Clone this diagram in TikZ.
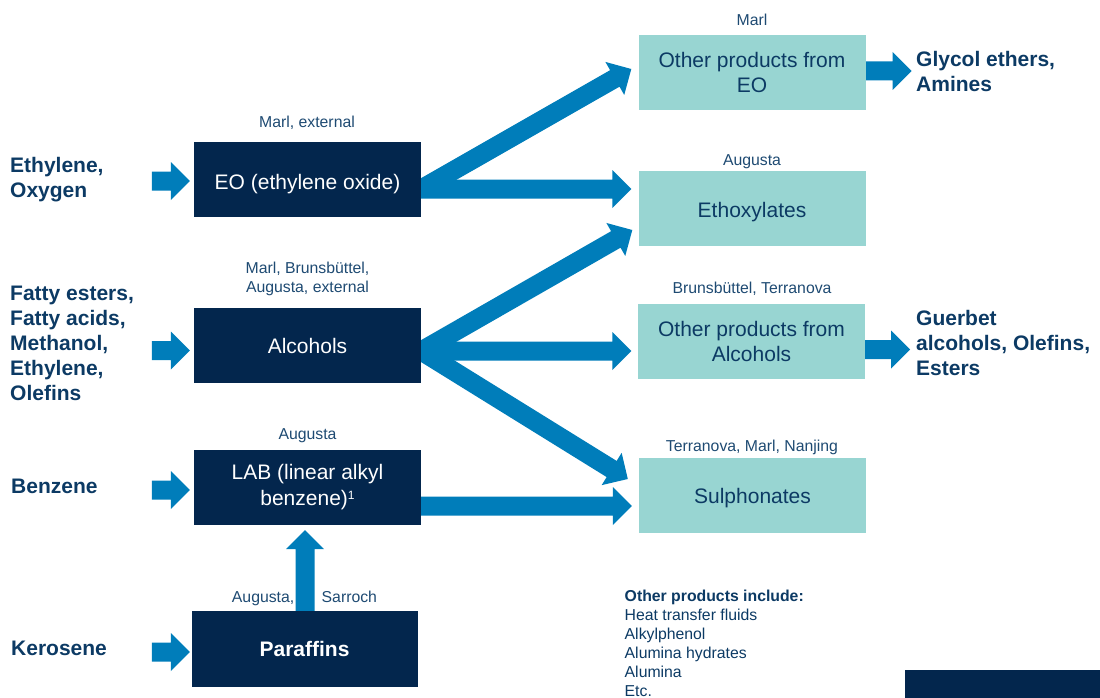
\documentclass[tikz,border=0pt]{standalone}
\usepackage{fontspec}
\setmainfont{Liberation Sans}
\usetikzlibrary{calc,backgrounds}

\definecolor{navybox}{HTML}{03264D}
\definecolor{tealbox}{HTML}{98D5D2}
\definecolor{flowblue}{HTML}{007DBA}
\definecolor{inkblue}{HTML}{0C3A64}
\definecolor{sitecol}{HTML}{1E4A72}

% broad block arrow from #1 to #2: shaft 19pt, head 38pt wide and 19pt long
\newcommand{\fatarrow}[2]{%
  \coordinate (fa-base) at ($(#2)!19pt!(#1)$);
  \fill[flow] ($(#1)!9.5pt!90:(#2)$) -- ($(fa-base)!9.5pt!90:(#2)$)
    -- ($(fa-base)!19pt!90:(#2)$) -- (#2) -- ($(fa-base)!19pt!-90:(#2)$)
    -- ($(fa-base)!9.5pt!-90:(#2)$) -- ($(#1)!9.5pt!-90:(#2)$) -- cycle;}

% small footnote mark
\newcommand{\fnmark}[1]{\raisebox{6pt}{\fontsize{12}{12}\selectfont #1}}

\tikzset{
  flow/.style={fill=flowblue},
  darkbox/.style={fill=navybox, text=white, minimum width=227pt, minimum height=75pt,
    inner sep=0pt, align=center, font=\fontsize{21}{26}\selectfont},
  lightbox/.style={fill=tealbox, text=inkblue, minimum width=227pt, minimum height=75pt,
    inner sep=0pt, align=center, font=\fontsize{21}{25}\selectfont},
  oneline/.style={text height=15.3pt, text depth=0pt},
  site/.style={text=sitecol, inner sep=0pt, align=center, font=\fontsize{15.8}{19.5}\selectfont},
  feed/.style={text=inkblue, inner sep=0pt, align=left, font=\fontsize{21}{25}\selectfont\bfseries},
  notes/.style={text=inkblue, inner sep=0pt, align=left, font=\fontsize{15.8}{19}\selectfont},
}

\begin{document}
\begin{tikzpicture}[x=1pt, y=-1pt]
\useasboundingbox (0,0) rectangle (1100,698);
\clip (0,0) rectangle (1100,698);

% intermediate products
\node[darkbox, text height=20pt, text depth=0pt] (eo)  at (307.5,179.5) {EO (ethylene oxide)};
\node[darkbox, oneline] (alc) at (307.5,345.8) {Alcohols};
\node[darkbox] (lab) at (307.5,487.5) {LAB (linear alkyl\\benzene)\fnmark{1}};
\node[darkbox, oneline, minimum width=226pt, minimum height=76pt,
  font=\fontsize{21}{25}\selectfont\bfseries] (par) at (304.5,649) {Paraffins};

% end products
\node[lightbox] (oeo) at (752,72.5) {Other products from\\EO};
\node[lightbox, text height=17pt, text depth=0pt] (eth) at (752,208.5) {Ethoxylates};
\node[lightbox, oneline] (sul) at (752.5,495.5) {Sulphonates};
\node[lightbox] (oal) at (751.5,341.5) {Other products from\\Alcohols};

% sites
\node[site, anchor=base] (s-oeo) at (752,26) {Marl};
\node[site, anchor=base] (s-eth) at (752,165) {Augusta};
\node[site, anchor=base] (s-oal) at (752,293) {Brunsbüttel, Terranova};
\node[site, anchor=base] (s-sul) at (752,451) {Terranova, Marl, Nanjing};
\node[site, anchor=base] (s-eo)  at (307,128) {Marl, external};
\node[site, anchor=north] (s-alc) at (307.5,261.6) {Marl, Brunsbüttel,\\Augusta, external};
\node[site, anchor=base] (s-lab) at (307.5,439) {Augusta};
\node[site, anchor=base east] (s-par1) at (294.5,602) {Augusta,};
\node[site, anchor=base west] (s-par2) at (321.5,602) {Sarroch};

% feedstocks
\node[feed, anchor=north west] (f-eo)  at (10,157.3) {Ethylene,\\Oxygen};
\node[feed, anchor=north west] (f-alc) at (10,286.2) {Fatty esters,\\Fatty acids,\\Methanol,\\Ethylene,\\Olefins};
\node[feed, anchor=base west]  (f-lab) at (11,493.5) {Benzene};
\node[feed, anchor=base west]  (f-par) at (11,655.5) {Kerosene};

% downstream products
\node[feed, anchor=north west] (d-oeo) at (916,51.2) {Glycol ethers,\\Amines};
\node[feed, anchor=north west] (d-oal) at (916,310.2) {Guerbet\\alcohols, Olefins,\\Esters};

% further products
\node[notes, anchor=north west] (other) at (624.5,589.5)
  {\textbf{Other products include:}\\Heat transfer fluids\\Alkylphenol\\Alumina hydrates\\Alumina\\Etc.};

% box at the lower right edge
\node[fill=navybox, minimum width=200pt, minimum height=40pt, inner sep=0pt, anchor=north west]
  (corner) at (905,670) {};

% arrow end points
\coordinate (eoIn1)  at ($(eo.west)+(-42,1.5)$);
\coordinate (eoIn2)  at ($(eo.west)+(-4,1.5)$);
\coordinate (alcIn1) at ($(alc.west)+(-42,4.7)$);
\coordinate (alcIn2) at ($(alc.west)+(-4,4.7)$);
\coordinate (labIn1) at ($(lab.west)+(-42,2.5)$);
\coordinate (labIn2) at ($(lab.west)+(-4,2.5)$);
\coordinate (parIn1) at ($(par.west)+(-39.5,3)$);
\coordinate (parIn2) at ($(par.west)+(-1.5,3)$);

\coordinate (eoOut)  at ($(eo.east)+(0,9.5)$);
\coordinate (oeoIn)  at ($(oeo.west)+(-7,-3.5)$);
\coordinate (ethIn1) at ($(eth.west)+(-7,-19.5)$);
\coordinate (alcOut) at ($(alc.east)+(0,5.2)$);
\coordinate (ethIn2) at ($(eth.west)+(-6,21.5)$);
\coordinate (oalIn)  at ($(oal.west)+(-6.5,9.5)$);
\coordinate (sulIn1) at ($(sul.west)+(-11,-16.5)$);
\coordinate (labOut) at ($(lab.east)+(0,18.5)$);
\coordinate (sulIn2) at ($(sul.west)+(-7,10.5)$);
\coordinate (parOut) at ($(par.north)+(0.5,0)$);
\coordinate (labUp)  at ($(lab.south)+(-2.5,5)$);

\coordinate (oeoOut) at ($(oeo.east)+(0,-1.5)$);
\coordinate (oeoTip) at ($(oeo.east)+(46,-1.5)$);
\coordinate (oalOut) at ($(oal.east)+(0,8)$);
\coordinate (oalTip) at ($(oal.east)+(45,8)$);

\begin{scope}[on background layer]
  \fatarrow{eoIn1}{eoIn2}
  \fatarrow{alcIn1}{alcIn2}
  \fatarrow{labIn1}{labIn2}
  \fatarrow{parIn1}{parIn2}
  \fatarrow{eoOut}{oeoIn}
  \fatarrow{eoOut}{ethIn1}
  \fatarrow{alcOut}{ethIn2}
  \fatarrow{alcOut}{oalIn}
  \fatarrow{alcOut}{sulIn1}
  \fatarrow{labOut}{sulIn2}
  \fatarrow{parOut}{labUp}
  \fatarrow{oeoOut}{oeoTip}
  \fatarrow{oalOut}{oalTip}
\end{scope}
\end{tikzpicture}
\end{document}
